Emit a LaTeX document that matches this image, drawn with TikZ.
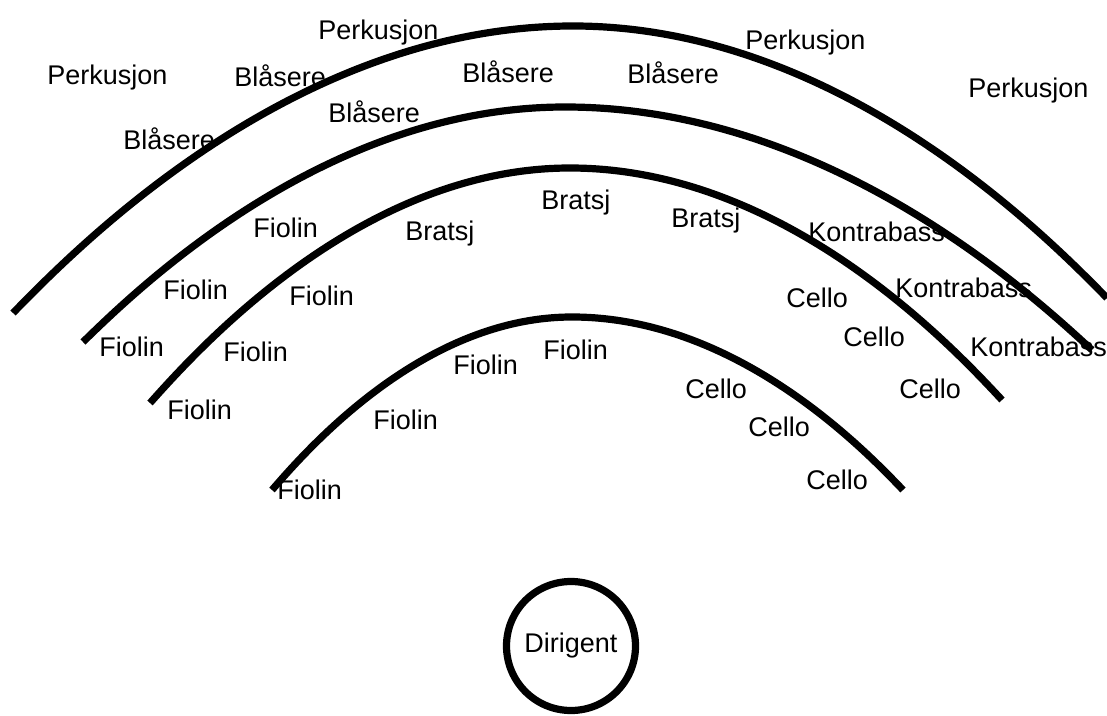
\documentclass[tikz,border=0pt]{standalone}
\usepackage{fontspec}
\setmainfont{Liberation Sans}

\tikzset{
  rad/.style={line width=3.6pt},
  lbl/.style={anchor=west, inner sep=0pt, text height=9.7pt, text depth=0pt}
}

\begin{document}
\begin{tikzpicture}[x=0.5pt,y=-0.5pt]
\useasboundingbox (0,0) rectangle (1107,716);
\fontsize{13.5}{16}\selectfont

\draw[rad] (13,313) parabola bend (573,26) (1107,298);
\draw[rad] (83,342) parabola bend (565,107) (1092,350);
\draw[rad] (150,403) parabola bend (570,168) (1002,400);
\draw[rad] (272,490) parabola bend (572,317) (903,490);

\foreach \x/\y [count=\i] in {318/30,47/75,745/40,968/88}
  \node (perkusjon\i) at (\x,\y) [lbl] {Perkusjon};
\foreach \x/\y [count=\i] in {234/77,462/73,627/74,328/113,123/140}
  \node (blasere\i) at (\x,\y) [lbl] {Blåsere};
\foreach \x/\y [count=\i] in {405/231,541/200,671/218}
  \node (bratsj\i) at (\x,\y) [lbl] {Bratsj};
\foreach \x/\y [count=\i] in {808/232,895/288,970/347}
  \node (kontrabass\i) at (\x,\y) [lbl] {Kontrabass};
\foreach \x/\y [count=\i] in {786/298,843/337,685/389,899/389,748/427,806/480}
  \node (cello\i) at (\x,\y) [lbl] {Cello};
\foreach \x/\y [count=\i] in {253/228,163/290,289/296,99/347,223/352,453/365,543/350,167/410,373/420,277/490}
  \node (fiolin\i) at (\x,\y) [lbl] {Fiolin};

\node (dirigent) at (571,646) [circle, draw, line width=3.6pt, minimum size=64.5pt, inner sep=0pt] {Dirigent};
\end{tikzpicture}
\end{document}
